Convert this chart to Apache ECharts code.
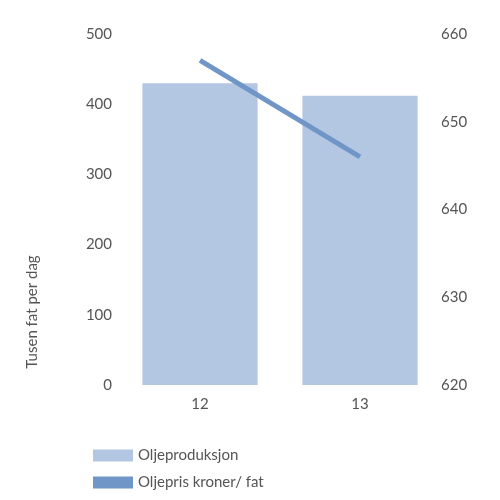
<!DOCTYPE html><html><head><meta charset="utf-8"><script src="https://cdn.jsdelivr.net/npm/echarts@6/dist/echarts.min.js"></script></head><body style="margin:0"><div id="c" style="width:500px;height:500px"></div><script>
var categories=['12','13'];
var produksjon=[430,412];
var pris=[657,646];
var c=echarts.init(document.getElementById('c'));
var txt={color:'#555',fontSize:15,fontFamily:'Lato'};
c.setOption({animation:false,
grid:{left:120,right:60,top:34,bottom:115},
graphic:[{type:'text',x:32,y:312,rotation:Math.PI/2,style:{text:'Tusen fat per dag',fill:'#555',font:'15px Lato',textAlign:'center',textVerticalAlign:'middle'}}],
legend:{left:88,top:443,orient:'vertical',itemGap:12,itemWidth:40,itemHeight:12,textStyle:{color:'#555',fontSize:15,fontFamily:'Lato'},
data:[{name:'Oljeproduksjon',icon:'rect'},{name:'Oljepris kroner/ fat',icon:'rect'}]},
xAxis:{type:'category',data:categories,axisLine:{show:false},axisTick:{show:false},axisLabel:Object.assign({margin:12},txt)},
yAxis:[{type:'value',min:0,max:500,interval:100,splitLine:{show:false},axisLabel:Object.assign({margin:8},txt)},
{type:'value',min:620,max:660,interval:10,splitLine:{show:false},axisLabel:Object.assign({margin:1},txt)}],
series:[{name:'Oljeproduksjon',type:'bar',data:produksjon,barCategoryGap:'28%',itemStyle:{color:'#b3c6e2'}},
{name:'Oljepris kroner/ fat',type:'line',yAxisIndex:1,data:pris,symbol:'none',lineStyle:{color:'#7096c8',width:5},itemStyle:{color:'#7096c8'}}]});
</script></body></html>
